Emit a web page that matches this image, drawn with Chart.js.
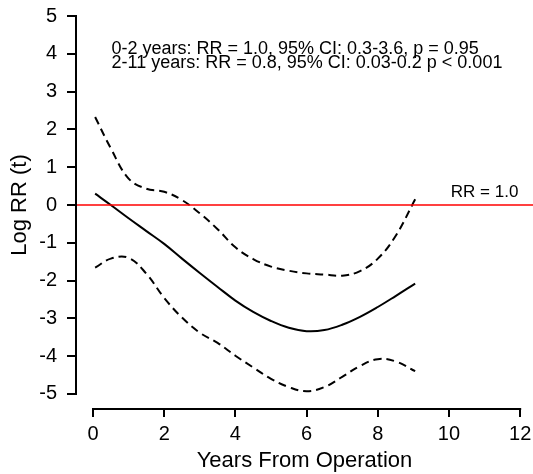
<!DOCTYPE html>
<html>
<head>
<meta charset="utf-8">
<script src="https://cdn.jsdelivr.net/npm/chart.js@4"></script>
<style>
  html, body { margin: 0; padding: 0; background: #fff; }
  #wrap { width: 533px; height: 474px; }
</style>
</head>
<body>
<div id="wrap"><canvas id="rrChart"></canvas></div>
<script>
// values
const years   = [0.06, 0.5, 1, 1.5, 2, 2.5, 3, 3.5, 4, 4.5, 5, 5.5, 6, 6.5, 7, 7.5, 8, 8.5, 9.05];
const logRR   = [0.30, 0.00, -0.35, -0.69, -1.03, -1.42, -1.80, -2.17, -2.53, -2.83, -3.07, -3.25, -3.34, -3.31, -3.17, -2.96, -2.70, -2.41, -2.08];
const upperCI = [2.33, 1.50, 0.70, 0.43, 0.35, 0.13, -0.22, -0.64, -1.12, -1.43, -1.63, -1.74, -1.81, -1.84, -1.87, -1.75, -1.42, -0.82, 0.15];
const lowerCI = [-1.66, -1.42, -1.40, -1.82, -2.46, -2.98, -3.38, -3.65, -3.99, -4.30, -4.60, -4.82, -4.93, -4.82, -4.55, -4.26, -4.08, -4.14, -4.40];

const xTicks = [0, 2, 4, 6, 8, 10, 12];
const yTicks = [-5, -4, -3, -2, -1, 0, 1, 2, 3, 4, 5];
const refValue = 0;
const refLabel = 'RR = 1.0';
const notes = [
  '0-2 years: RR = 1.0, 95% CI: 0.3-3.6, p = 0.95',
  '2-11 years: RR = 0.8, 95% CI: 0.03-0.2 p < 0.001'
];

const X_MIN = -0.4775, X_MAX = 12.36;
const Y_MIN = -5.4, Y_MAX = 5.4;
const FONT = "'Liberation Sans', Arial, sans-serif";

Chart.defaults.font.family = FONT;
Chart.defaults.color = '#000';

const toPts = (ys) => years.map((x, i) => ({ x: x, y: ys[i] }));

// R style detached axes + text labels
const rAxes = {
  id: 'rAxes',
  afterDraw(chart) {
    const ctx = chart.ctx;
    const xs = chart.scales.x, ys = chart.scales.y;
    const area = chart.chartArea;
    ctx.save();
    ctx.strokeStyle = '#000';
    ctx.lineWidth = 2;
    ctx.lineCap = 'butt';
    ctx.beginPath();
    ctx.moveTo(xs.getPixelForValue(xTicks[0]) - 1, area.bottom);
    ctx.lineTo(xs.getPixelForValue(xTicks[xTicks.length - 1]) + 1, area.bottom);
    ctx.moveTo(area.left, ys.getPixelForValue(yTicks[yTicks.length - 1]) - 1);
    ctx.lineTo(area.left, ys.getPixelForValue(yTicks[0]) + 1);
    ctx.stroke();

    ctx.fillStyle = '#000';
    ctx.font = '18px ' + FONT;
    ctx.textAlign = 'left';
    ctx.textBaseline = 'alphabetic';
    const nx = xs.getPixelForValue(0.52);
    const ny = ys.getPixelForValue(4.0);
    notes.forEach((t, i) => ctx.fillText(t, nx, ny + i * 14));

    ctx.font = '17px ' + FONT;
    ctx.textAlign = 'center';
    ctx.fillText(refLabel, xs.getPixelForValue(11), ys.getPixelForValue(refValue) - 8);
    ctx.restore();
  }
};

new Chart(document.getElementById('rrChart'), {
  type: 'line',
  data: {
    datasets: [
      {
        label: 'RR = 1.0',
        data: [{ x: X_MIN, y: refValue }, { x: X_MAX, y: refValue }],
        borderColor: '#ff0000',
        borderWidth: 1.6,
        pointRadius: 0,
      },
      {
        label: 'Upper 95% CI',
        data: toPts(upperCI),
        borderColor: '#000',
        borderWidth: 2,
        borderDash: [8, 5],
        pointRadius: 0,
        tension: 0.4,
      },
      {
        label: 'Log RR',
        data: toPts(logRR),
        borderColor: '#000',
        borderWidth: 2,
        pointRadius: 0,
        tension: 0.4,
      },
      {
        label: 'Lower 95% CI',
        data: toPts(lowerCI),
        borderColor: '#000',
        borderWidth: 2,
        borderDash: [8, 5],
        pointRadius: 0,
        tension: 0.4,
      },
    ],
  },
  options: {
    responsive: true,
    maintainAspectRatio: false,
    animation: false,
    layout: { padding: { top: 1, right: 0, left: 0, bottom: 0 } },
    plugins: {
      legend: { display: false },
      tooltip: { enabled: false },
    },
    scales: {
      x: {
        type: 'linear',
        min: X_MIN,
        max: X_MAX,
        afterBuildTicks: (s) => { s.ticks = xTicks.map((v) => ({ value: v })); },
        afterFit: (s) => { s.height = 65; s.paddingLeft = 0; s.paddingRight = 0; },
        border: { display: false },
        grid: { drawOnChartArea: false, drawTicks: true, tickLength: 8, color: '#000', lineWidth: 2 },
        ticks: { font: { size: 20 }, padding: 5, maxRotation: 0, color: '#000' },
        title: { display: true, text: 'Years From Operation', font: { size: 22 }, padding: 0, color: '#000' },
      },
      y: {
        min: Y_MIN,
        max: Y_MAX,
        afterBuildTicks: (s) => { s.ticks = yTicks.map((v) => ({ value: v })); },
        afterFit: (s) => { s.width = 76; s.paddingTop = 0; s.paddingBottom = 0; },
        border: { display: false },
        grid: { drawOnChartArea: false, drawTicks: true, tickLength: 9, color: '#000', lineWidth: 2 },
        ticks: { font: { size: 20 }, padding: 10, color: '#000' },
        title: { display: true, text: 'Log RR (t)', font: { size: 22 }, padding: 7, color: '#000' },
      },
    },
  },
  plugins: [rAxes],
});
</script>
</body>
</html>
